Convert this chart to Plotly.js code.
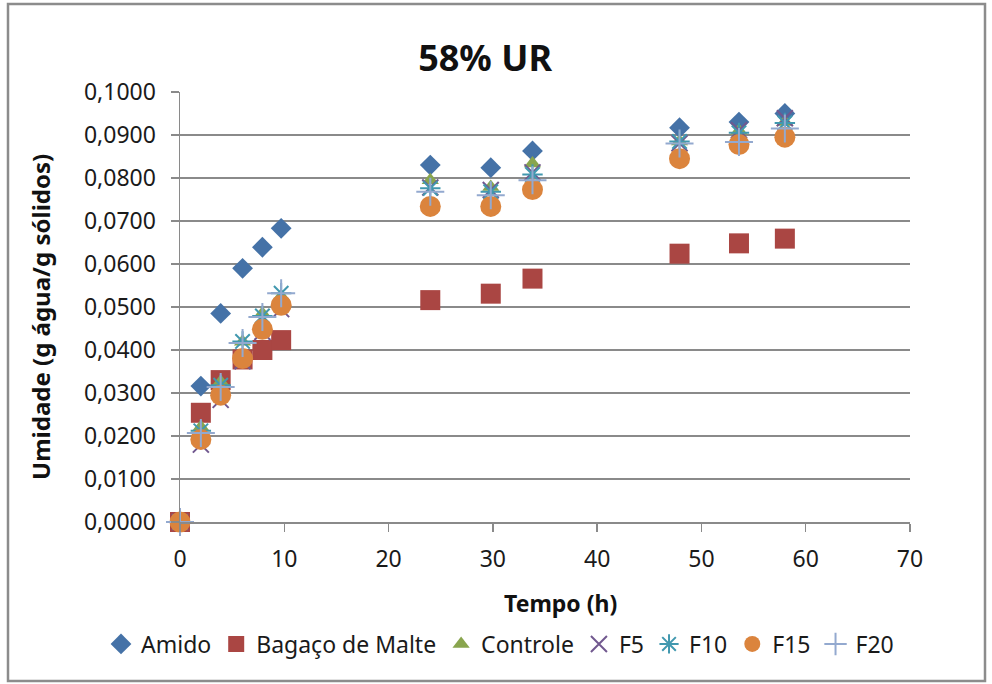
<!DOCTYPE html>
<html>
<head>
<meta charset="utf-8">
<script src="https://cdn.plot.ly/plotly-3.0.1.min.js"></script>
<style>
  html, body { margin: 0; padding: 0; background: #ffffff; }
  #chart { width: 992px; height: 684px; }
</style>
</head>
<body>
<div id="chart"></div>
<script>
// Sorption time points (h)
const tempo = [0, 2, 3.9, 6, 7.9, 9.7, 24, 29.8, 33.8, 47.9, 53.6, 58];

// Moisture content (g água / g sólidos) for each sample
const amido    = [0, 0.0316, 0.0485, 0.0590, 0.0639, 0.0683, 0.0830, 0.0824, 0.0863, 0.0917, 0.0930, 0.0950];
const bagaco   = [0, 0.0254, 0.0330, 0.0378, 0.0400, 0.0423, 0.0516, 0.0531, 0.0566, 0.0624, 0.0648, 0.0659];
const controle = [0, 0.0221, 0.0326, 0.0419, 0.0485, 0.0525, 0.0795, 0.0779, 0.0834, 0.0885, 0.0910, 0.0930];
const f5       = [0, 0.0180, 0.0284, 0.0374, 0.0442, 0.0495, 0.0778, 0.0772, 0.0813, 0.0881, 0.0911, 0.0939];
const f10      = [0, 0.0212, 0.0318, 0.0420, 0.0479, 0.0532, 0.0776, 0.0768, 0.0808, 0.0885, 0.0905, 0.0928];
const f15      = [0, 0.0192, 0.0295, 0.0380, 0.0448, 0.0504, 0.0734, 0.0734, 0.0773, 0.0845, 0.0878, 0.0895];
const f20      = [0, 0.0207, 0.0314, 0.0416, 0.0477, 0.0532, 0.0768, 0.0760, 0.0795, 0.0880, 0.0884, 0.0915];

const seriesNames = ['Amido', 'Bagaço de Malte', 'Controle', 'F5', 'F10', 'F15', 'F20'];

const FONT = 'Noto Sans, Open Sans, DejaVu Sans, sans-serif';

function pts(name, y, marker) {
  return {
    type: 'scatter',
    mode: 'markers',
    name: name,
    x: tempo,
    y: y,
    cliponaxis: false,
    marker: marker,
    hoverinfo: 'x+y+name'
  };
}

const traces = [
  pts(seriesNames[0], amido,    { symbol: 'diamond', size: 16, color: '#4572A7' }),
  pts(seriesNames[1], bagaco,   { symbol: 'square', size: 20, color: '#AA4643' }),
  pts(seriesNames[2], controle, { symbol: 'triangle-up', size: 15, color: '#89A54E' }),
  pts(seriesNames[3], f5,       { symbol: 'x-thin-open', size: 16, color: '#71588F', line: { color: '#71588F', width: 2 } }),
  pts(seriesNames[4], f10,      { symbol: 'asterisk-open', size: 17, color: '#4198AF', line: { color: '#4198AF', width: 2 } }),
  pts(seriesNames[5], f15,      { symbol: 'circle', size: 21, color: '#DB843D' }),
  pts(seriesNames[6], f20,      { symbol: 'cross-thin-open', size: 20, color: '#93A9CF', line: { color: '#93A9CF', width: 2 } })
];

// plot area in pixels
const L = 180, R = 82, T = 92, B = 162, W = 992, H = 684;
const pw = W - L - R, ph = H - T - B;
const px = v => (v - L) / pw;          // pixel -> paper x
const py = v => (H - B - v) / ph;      // pixel -> paper y

const axisGrey = '#8a8a8a';

const layout = {
  width: W,
  height: H,
  margin: { l: L, r: R, t: T, b: B, pad: 0, autoexpand: false },
  paper_bgcolor: '#ffffff',
  plot_bgcolor: '#ffffff',
  separators: ',.',
  font: { family: FONT, color: '#1a1a1a', size: 22 },
  showlegend: true,
  title: {
    text: '<b>58% UR</b>',
    font: { family: FONT, size: 36, color: '#111111' },
    xref: 'container', x: 0.489, xanchor: 'center',
    yref: 'container', y: (H - 58) / H, yanchor: 'middle'
  },
  xaxis: {
    range: [0, 70],
    tick0: 0, dtick: 10,
    showgrid: false,
    zeroline: false,
    showline: true, linecolor: axisGrey, linewidth: 1.5,
    ticks: 'outside', ticklen: 8, tickwidth: 1.5, tickcolor: axisGrey,
    ticklabelstandoff: 8,
    tickfont: { family: FONT, size: 23, color: '#1a1a1a' },
    fixedrange: true
  },
  yaxis: {
    range: [0, 0.1],
    tick0: 0, dtick: 0.01,
    tickformat: '.4f',
    showgrid: true, gridcolor: axisGrey, gridwidth: 1.5,
    zeroline: false,
    showline: true, linecolor: axisGrey, linewidth: 1.5,
    ticks: 'outside', ticklen: 8, tickwidth: 1.5, tickcolor: axisGrey,
    ticklabelstandoff: 10,
    tickfont: { family: FONT, size: 23, color: '#1a1a1a' },
    fixedrange: true
  },
  legend: {
    orientation: 'h',
    xref: 'paper', x: px(101), xanchor: 'left',
    yref: 'paper', y: py(644), yanchor: 'middle',
    font: { family: FONT, size: 23, color: '#1a1a1a' },
    bgcolor: 'rgba(0,0,0,0)',
    itemwidth: 30,
    tracegroupgap: 0
  },
  annotations: [
    {
      text: '<b>Tempo (h)</b>',
      xref: 'paper', yref: 'paper',
      x: px(560), y: py(603),
      xanchor: 'center', yanchor: 'middle',
      showarrow: false,
      font: { family: FONT, size: 23, color: '#111111' }
    },
    {
      text: '<b>Umidade (g água/g sólidos)</b>',
      xref: 'paper', yref: 'paper',
      x: px(40), y: py(317),
      xanchor: 'center', yanchor: 'middle',
      textangle: -90,
      showarrow: false,
      font: { family: FONT, size: 24, color: '#111111' }
    }
  ],
  shapes: [
    {
      type: 'rect', xref: 'paper', yref: 'paper',
      x0: px(8), x1: px(985), y0: py(681), y1: py(4),
      line: { color: '#8c8c8c', width: 2.5 },
      fillcolor: 'rgba(0,0,0,0)',
      layer: 'below'
    }
  ]
};

Plotly.newPlot('chart', traces, layout, { displayModeBar: false, staticPlot: true });
</script>
</body>
</html>
